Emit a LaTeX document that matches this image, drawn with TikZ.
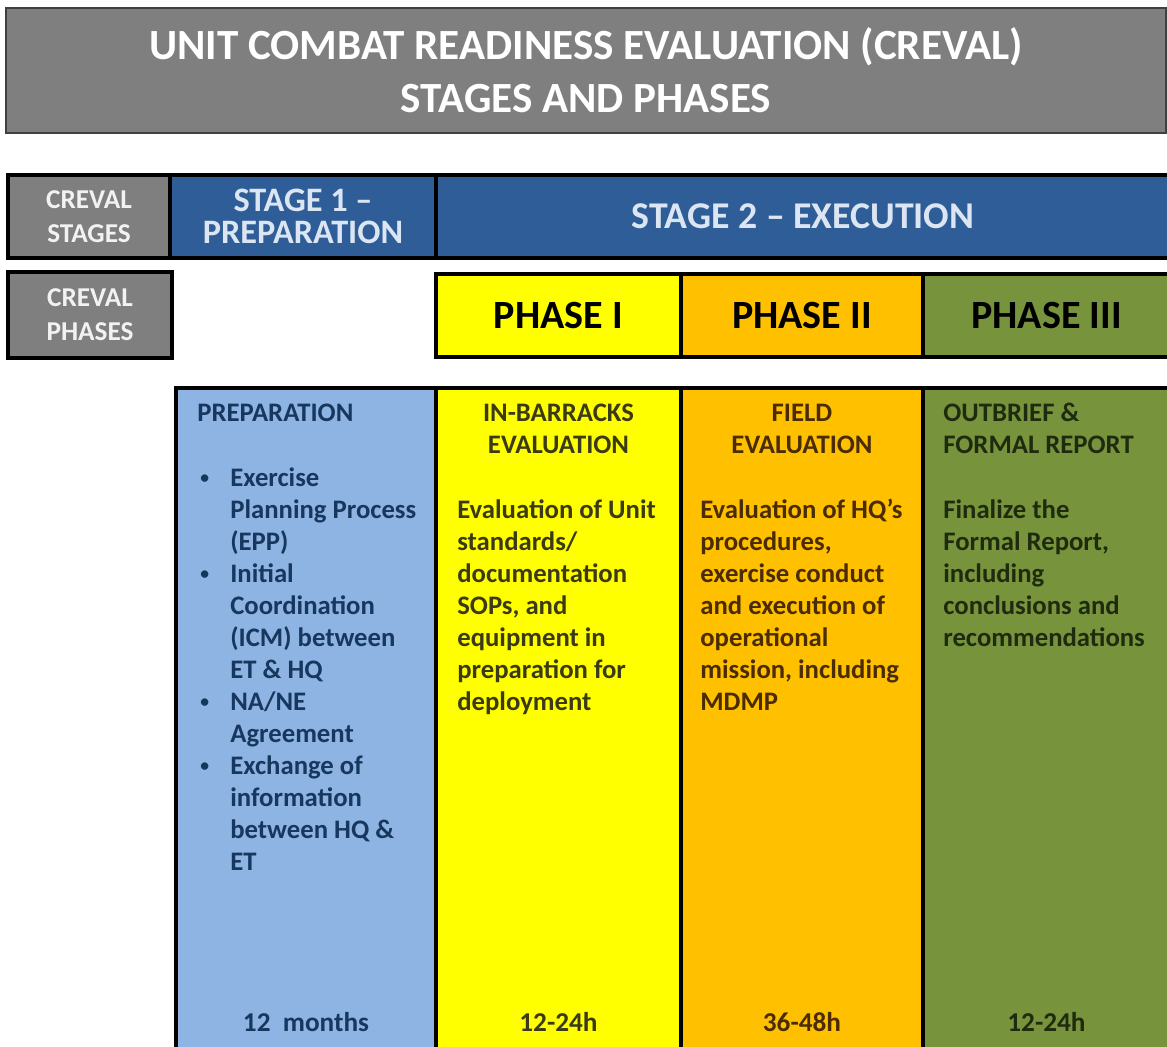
\documentclass[tikz,border=0pt]{standalone}
\usepackage{fontspec}
\setmainfont{Carlito}
\usepackage{xcolor}
\usepackage{tikz}
\usetikzlibrary{calc,positioning}

\definecolor{titlegray}{HTML}{7F7F7F}
\definecolor{labeltext}{HTML}{F2F2F2}
\definecolor{stageblue}{HTML}{2F5D98}
\definecolor{stagetext}{HTML}{DCE6F2}
\definecolor{prepblue}{HTML}{8DB4E2}
\definecolor{phaseyellow}{HTML}{FFFF00}
\definecolor{phaseorange}{HTML}{FFC000}
\definecolor{phasegreen}{HTML}{77933C}
\definecolor{preptext}{HTML}{17375E}
\definecolor{yellowtext}{HTML}{3A3A14}
\definecolor{orangetext}{HTML}{4A2C00}
\definecolor{greentext}{HTML}{1F2B0E}

\newcommand{\bulmark}{\makebox[0.64cm][l]{\hspace*{0.04cm}\raisebox{0.06cm}{\fontsize{10}{10}\selectfont\textbullet}}}
\newcommand{\bulpad}{\hspace*{0.64cm}}

\begin{document}
\begin{tikzpicture}[
  cell/.style={draw=black,line width=2.3pt,inner sep=0pt,outer sep=0pt,align=center},
  titlebox/.style={draw=black!75,line width=1.2pt,fill=titlegray,text=white,
    minimum width=23.2cm,minimum height=2.5cm,align=center,
    font=\fontsize{24.5}{30}\selectfont\bfseries},
  greycell/.style={cell,fill=titlegray,text=labeltext,
    font=\fontsize{15.5}{19.3}\selectfont\bfseries},
  stagecell/.style={cell,fill=stageblue,text=stagetext,minimum height=1.66cm,
    font=\fontsize{19.5}{18.2}\selectfont\bfseries},
  phasecell/.style={cell,minimum height=1.66cm,
    font=\fontsize{22.8}{24}\selectfont\bfseries},
  colbox/.style={cell,minimum height=13.6cm},
  coltext/.style={inner sep=0pt,anchor=base west,align=left,
    font=\fontsize{15.2}{18.2}\selectfont\bfseries},
  coltitle/.style={coltext,anchor=base,align=center},
  duration/.style={inner sep=0pt,anchor=base,
    font=\fontsize{15.5}{18}\selectfont\bfseries}
  ]
  \useasboundingbox [fill=white] (0,0) rectangle (23.34,-20.94);
  % title
  \node [titlebox] (title) at (11.72,-1.41)
    {UNIT COMBAT READINESS EVALUATION (CREVAL)\\STAGES AND PHASES};
  % stages row
  \node [greycell,minimum width=3.24cm,minimum height=1.66cm,anchor=north west]
    (lblst) at (0.16,-3.5) {CREVAL\\STAGES};
  \node [stagecell,minimum width=5.32cm] (st1) [right=0pt of lblst] {STAGE 1 --\\PREPARATION};
  \node [stagecell,minimum width=14.68cm,font=\fontsize{21.5}{24}\selectfont\bfseries]
    (st2) [right=0pt of st1] {STAGE 2 -- EXECUTION};
  % phases row
  \node [greycell,minimum width=3.28cm,minimum height=1.72cm,anchor=north west]
    (lblph) at (0.16,-5.44) {CREVAL\\PHASES};
  \node [phasecell,fill=phaseyellow,minimum width=4.9cm,anchor=north west]
    (ph1) at (8.72,-5.48) {PHASE I};
  \node [phasecell,fill=phaseorange,minimum width=4.84cm] (ph2) [right=0pt of ph1] {PHASE II};
  \node [phasecell,fill=phasegreen,minimum width=4.94cm] (ph3) [right=0pt of ph2] {PHASE III};
  % columns
  \node [colbox,fill=prepblue,minimum width=5.2cm,anchor=north west] (col0) at (3.52,-7.76) {};
  \node [colbox,fill=phaseyellow,minimum width=4.9cm] (col1) [right=0pt of col0] {};
  \node [colbox,fill=phaseorange,minimum width=4.84cm] (col2) [right=0pt of col1] {};
  \node [colbox,fill=phasegreen,minimum width=4.94cm] (col3) [right=0pt of col2] {};
  % column texts (base = last line)
  \node [coltext,text=preptext] (hd0) at ($(col0.north west)+(0.42,-0.67)$) {PREPARATION};
  \node [coltext,text=preptext] (bd0) at ($(col0.north west)+(0.44,-9.65)$)
    {\bulmark Exercise\\ \bulpad Planning Process\\ \bulpad (EPP)\\
     \bulmark Initial\\ \bulpad Coordination\\ \bulpad (ICM) between\\ \bulpad ET \& HQ\\
     \bulmark NA/NE\\ \bulpad Agreement\\
     \bulmark Exchange of\\ \bulpad information\\ \bulpad between HQ \&\\ \bulpad ET};
  \node [coltitle,text=yellowtext] (hd1) at ($(col1.north)+(0,-1.31)$) {IN-BARRACKS\\EVALUATION};
  \node [coltext,text=yellowtext] (bd1) at ($(col1.north west)+(0.42,-6.45)$)
    {Evaluation of Unit\\standards/\\documentation\\SOPs, and\\equipment in\\preparation for\\deployment};
  \node [coltitle,text=orangetext] (hd2) at ($(col2.north)+(0,-1.31)$) {FIELD\\EVALUATION};
  \node [coltext,text=orangetext] (bd2) at ($(col2.north west)+(0.38,-6.45)$)
    {Evaluation of HQ’s\\procedures,\\exercise conduct\\and execution of\\operational\\mission, including\\MDMP};
  \node [coltext,text=greentext] (hd3) at ($(col3.north west)+(0.4,-1.31)$) {OUTBRIEF \&\\FORMAL REPORT};
  \node [coltext,text=greentext] (bd3) at ($(col3.north west)+(0.4,-5.17)$)
    {Finalize the\\Formal Report,\\including\\conclusions and\\recommendations};
  % durations
  \coordinate (base) at (0,-20.64);
  \node [duration,text=preptext] (d0) at (col0 |- base) {12\ \ months};
  \node [duration,text=yellowtext] (d1) at (col1 |- base) {12-24h};
  \node [duration,text=orangetext] (d2) at (col2 |- base) {36-48h};
  \node [duration,text=greentext] (d3) at (col3 |- base) {12-24h};
\end{tikzpicture}
\end{document}
